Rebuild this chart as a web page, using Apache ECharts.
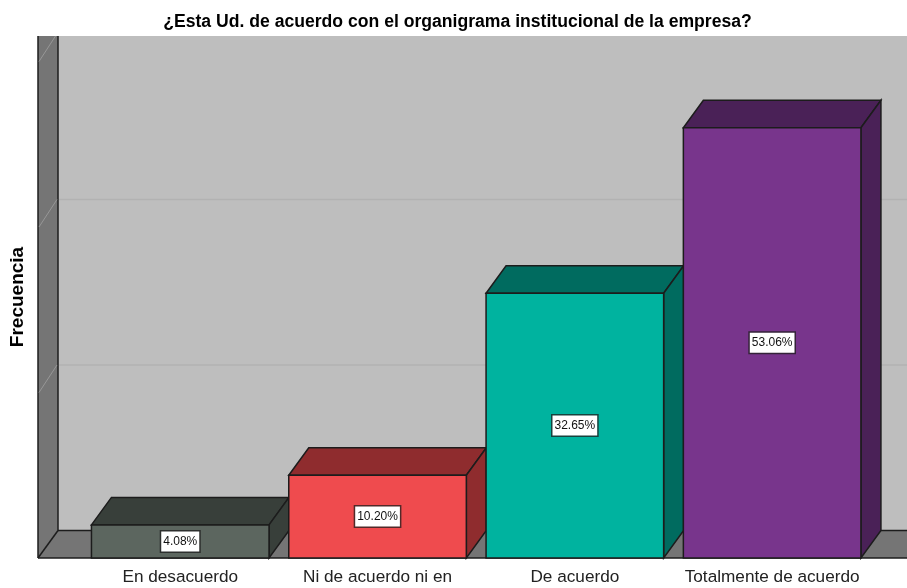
<!DOCTYPE html>
<html>
<head>
<meta charset="utf-8">
<title>Frecuencia</title>
<script src="https://cdn.jsdelivr.net/npm/echarts@6/dist/echarts.min.js"></script>
<style>
	html, body { margin: 0; padding: 0; background: #fff; }
	#chart { width: 907px; height: 588px; }
</style>
</head>
<body>
<div id="chart"></div>
<script>
var categories = ['En desacuerdo', 'Ni de acuerdo ni en', 'De acuerdo', 'Totalmente de acuerdo'];
var frecuencias = [2, 5, 16, 26];
var porcentajes = ['4.08%', '10.20%', '32.65%', '53.06%'];
var coloresFrente = ['#5C665F', '#EF4B4E', '#00B39F', '#78358C'];
var coloresSombra = ['#383F3A', '#8F2C2E', '#006B5F', '#4A2157'];
var marcasGrid = [10, 20, 30];

// profundidad del efecto 3D
var DX = 20;
var DY = 27.5;
var MURO = 43.6; // margen entre el inicio del eje x y el muro izquierdo
var BORDE = '#1c1c1c';

var myChart = echarts.init(document.getElementById('chart'));

function murales(params, api) {
	var cs = params.coordSys;
	var x0 = cs.x - MURO;
	var x1 = api.getWidth();
	var top = cs.y;
	var base = cs.y + cs.height;
	var linea = { stroke: BORDE, lineWidth: 1.5 };
	return {
		type: 'group',
		children: [
			{ type: 'rect', shape: { x: x0 + DX, y: top, width: x1 - x0 - DX, height: base - DY - top }, style: { fill: '#BEBEBE' } },
			{ type: 'polygon', shape: { points: [[x0, top], [x0 + DX, top], [x0 + DX, base - DY], [x0, base]] }, style: { fill: '#757575' } },
			{ type: 'polygon', shape: { points: [[x0 + DX, base - DY], [x1, base - DY], [x1, base], [x0, base]] }, style: { fill: '#757575' } },
			{ type: 'line', shape: { x1: x0, y1: top, x2: x0, y2: base }, style: linea },
			{ type: 'line', shape: { x1: x0 + DX, y1: top, x2: x0 + DX, y2: base - DY }, style: linea },
			{ type: 'line', shape: { x1: x0 + DX, y1: base - DY, x2: x1, y2: base - DY }, style: linea },
			{ type: 'line', shape: { x1: x0, y1: base, x2: x0 + DX, y2: base - DY }, style: linea },
			{ type: 'line', shape: { x1: x0, y1: base, x2: x1, y2: base }, style: linea }
		]
	};
}

function lineasGrid(params, api) {
	var cs = params.coordSys;
	var x0 = cs.x - MURO;
	var y = api.coord([0, api.value(0)])[1];
	var yFondo = y - DY;
	var children = [];
	var xDiag = x0 + DX;
	var yDiag = yFondo;
	// la marca de arriba queda cortada por el borde del grafico
	if (yFondo < cs.y) {
		xDiag = x0 + DX - DX * (cs.y - yFondo) / DY;
		yDiag = cs.y;
	} else {
		children.push({ type: 'line', shape: { x1: x0 + DX + 1, y1: yFondo, x2: api.getWidth(), y2: yFondo }, style: { stroke: '#B2B2B2', lineWidth: 1.5 } });
	}
	children.push({ type: 'line', shape: { x1: x0 + 1, y1: y, x2: xDiag - 1, y2: yDiag }, style: { stroke: '#979797', lineWidth: 1 } });
	return { type: 'group', children: children };
}

function barras(params, api) {
	var i = api.value(0);
	var tope = api.coord([i, api.value(1)]);
	var base = api.coord([i, 0]);
	var ancho = api.size([1, 0])[0] * 0.9;
	var x = tope[0] - ancho / 2;
	var y = tope[1];
	var alto = base[1] - y;
	var estilo = function (fill) {
		return { fill: fill, stroke: BORDE, lineWidth: 1.5 };
	};
	return {
		type: 'group',
		children: [
			{ type: 'polygon', shape: { points: [[x, y], [x + DX, y - DY], [x + ancho + DX, y - DY], [x + ancho, y]] }, style: estilo(coloresSombra[i]) },
			{ type: 'polygon', shape: { points: [[x + ancho, y], [x + ancho + DX, y - DY], [x + ancho + DX, y - DY + alto], [x + ancho, y + alto]] }, style: estilo(coloresSombra[i]) },
			{ type: 'rect', shape: { x: x, y: y, width: ancho, height: alto }, style: estilo(coloresFrente[i]) },
			{
				type: 'text',
				x: tope[0],
				y: y + alto / 2,
				style: {
					text: porcentajes[i],
					font: '12px "Liberation Sans", Arial, sans-serif',
					fill: '#111',
					align: 'center',
					verticalAlign: 'middle',
					backgroundColor: '#fff',
					borderColor: 'rgba(30,30,30,0.75)',
					borderWidth: 1.5,
					padding: [4, 2, 4, 2]
				}
			}
		]
	};
}

var option = {
	animation: false,
	title: {
		text: '¿Esta Ud. de acuerdo con el organigrama institucional de la empresa?',
		left: 452.5,
		top: 8,
		textAlign: 'center',
		textStyle: {
			fontFamily: '"Liberation Sans", Arial, sans-serif',
			fontSize: 17.6,
			fontWeight: 'bold',
			color: '#000'
		}
	},
	grid: {
		left: 81.6,
		right: 36.2,
		top: 36,
		bottom: 30,
		outerBoundsMode: 'none'
	},
	xAxis: {
		type: 'category',
		data: categories,
		axisLine: { show: false },
		axisTick: { show: false },
		axisLabel: {
			interval: 0,
			margin: 11,
			fontFamily: '"Liberation Sans", Arial, sans-serif',
			fontSize: 17.2,
			color: '#222'
		}
	},
	yAxis: {
		type: 'value',
		min: 0,
		max: 31.54,
		interval: 10,
		name: 'Frecuencia',
		nameLocation: 'middle',
		nameGap: 54,
		nameRotate: 90,
		nameTextStyle: {
			fontFamily: '"Liberation Sans", Arial, sans-serif',
			fontSize: 19,
			fontWeight: 'bold',
			color: '#000'
		},
		axisLine: { show: false },
		axisTick: { show: false },
		axisLabel: { show: false },
		splitLine: { show: false }
	},
	series: [
		{
			type: 'custom',
			silent: true,
			clip: false,
			z: 1,
			renderItem: murales,
			data: [[0]]
		},
		{
			type: 'custom',
			silent: true,
			clip: false,
			z: 2,
			renderItem: lineasGrid,
			data: marcasGrid.map(function (v) { return [v]; })
		},
		{
			type: 'custom',
			clip: false,
			z: 3,
			renderItem: barras,
			encode: { x: 0, y: 1 },
			data: frecuencias.map(function (v, i) { return [i, v]; })
		}
	]
};

myChart.setOption(option);
</script>
</body>
</html>
